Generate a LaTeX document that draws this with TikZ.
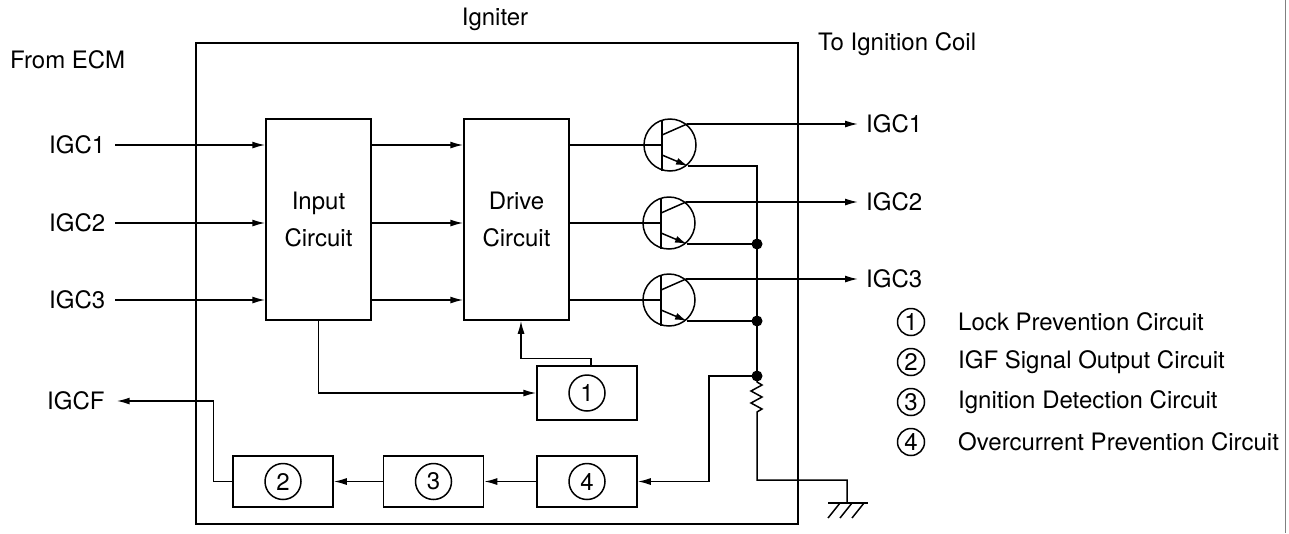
\documentclass[tikz,border=0pt]{standalone}
\usepackage{fontspec}
\setmainfont{TeX Gyre Heros}
\usetikzlibrary{arrows.meta}
\tikzset{
    line/.style={
        line width=1.5pt
    },
    bold/.style={
        line width=2.4pt
    },
    arrow/.style={
        line,
        -{Latex[length=13pt, width=7pt]}
    },
    block/.style={
        line, draw, rectangle, inner sep=0pt
    },
    num/.style={
        line, draw, circle, inner sep=0pt, minimum size=36pt
    },
    key/.style={
        line, draw, circle, inner sep=0pt, minimum size=27pt
    },
    tag/.style={
        inner sep=0pt
    },
    dot/.style={
        circle, fill, inner sep=0pt, minimum size=11pt
    }
}
\newcommand{\transistor}[3]{
    \draw [line] (#2, #3) circle [radius=26pt];
    \draw [line] ({#2 - 8}, {#3 - 25}) -- ({#2 - 8}, {#3 + 26});
    \draw [line] ({#2 - 8}, {#3 - 10}) -- ({#2 + 17}, {#3 - 21});
    \draw [line, -{Latex[length=12pt, width=7pt]}]
        ({#2 - 8}, {#3 + 10}) -- ({#2 + 18}, {#3 + 21});
    \coordinate (#1-b) at ({#2 - 8}, #3);
    \coordinate (#1-c) at ({#2 + 17}, {#3 - 21});
    \coordinate (#1-e) at ({#2 + 18}, {#3 + 21});
}

\begin{document}
\begin{tikzpicture}[x=1pt, y=-1pt, font=\fontsize{24}{37}\selectfont]
    \useasboundingbox (0, 0) rectangle (1289, 533);

    % igniter housing
    \node [block, minimum width=602pt, minimum height=481pt] (igniter) at (497, 283.5) {};
    \node [tag] (title) at (495, 19) {Igniter};
    \node [tag, anchor=west] (ecm) at (10, 60) {From ECM};
    \node [tag, anchor=west] (coil) at (818, 44) {To Ignition Coil};

    % circuit blocks
    \node [block, minimum width=105pt, minimum height=201pt, align=center] (input) at (318.5, 219.5) {Input\\Circuit};
    \node [block, minimum width=105pt, minimum height=201pt, align=center] (drive) at (516.5, 219.5) {Drive\\Circuit};
    \node [block, minimum width=100pt, minimum height=54pt] (blk1) at (587, 393) {};
    \node [block, minimum width=100pt, minimum height=51pt] (blk2) at (283, 481.5) {};
    \node [block, minimum width=100pt, minimum height=51pt] (blk3) at (433.5, 481.5) {};
    \node [block, minimum width=100pt, minimum height=51pt] (blk4) at (587, 481.5) {};
    \foreach \n in {1, ..., 4} {
        \node [num] (num\n) at (blk\n) {\n};
    }

    % output transistors
    \transistor{t1}{670}{145}
    \transistor{t2}{669}{223}
    \transistor{t3}{669}{300}

    \foreach \i/\y in {1/145, 2/223, 3/300} {
        \node [tag, anchor=west] (in\i) at (49, \y) {IGC\i};
        \draw [arrow] ([xshift=10pt]in\i.east) -- (input.west |- in\i);
        \draw [arrow] (input.east |- in\i) -- (drive.west |- in\i);
        \draw [line] (drive.east |- in\i) -- (t\i-b);
        \node [tag, anchor=west] (out\i) at (866, {\y - 21}) {IGC\i};
        \draw [arrow] (t\i-c) -- ([xshift=-8pt]out\i.west);
    }

    % emitter bus
    \coordinate (rtop) at (757, 376);
    \draw [line] (t1-e) -| (rtop |- t2-e);
    \draw [bold] (t2-e) -| (rtop);
    \draw [bold] (t3-e) -- (t3-e -| rtop);
    \node [dot] (j2) at (rtop |- t2-e) {};
    \node [dot] (j3) at (rtop |- t3-e) {};
    \node [dot] (j4) at (rtop) {};

    % shunt resistor to ground
    \coordinate (gnd) at (847, 503);
    \draw [line] (rtop) -- ++(0, 6) -- ++(5, 3) -- ++(-11, 6) -- ++(11, 6)
        -- ++(-11, 6) -- ++(11, 6) -- ++(-5, 3) -- (757, 480) -| (gnd);
    \draw [line] ([xshift=-19pt]gnd) -- ([xshift=21pt]gnd);
    \foreach \dx in {-7, 5, 17} {
        \draw [line] ([xshift=\dx pt]gnd) -- ++(-12, 15);
    }

    % monitor and feedback paths
    \draw [arrow] (rtop) -- ++(-48, 0) |- (blk4.east);
    \draw [arrow] (blk4.west) -- (blk3.east);
    \draw [arrow] (blk3.west) -- (blk2.east);
    \node [tag, anchor=west] (igcf) at (47, 401) {IGCF};
    \draw [arrow] (blk2.west) -- ++(-19, 0) |- ([xshift=12pt]igcf.east);
    \draw [arrow] (input.south) |- (blk1.west);
    \draw [arrow] ([xshift=4pt]blk1.north) -- ++(0, -7) -| ([xshift=4.5pt]drive.south);

    % legend
    \foreach \n/\txt in {1/Lock Prevention Circuit, 2/IGF Signal Output Circuit,
                         3/Ignition Detection Circuit, 4/Overcurrent Prevention Circuit} {
        \node [key] (key\n) at (911, {282 + 40 * \n}) {\n};
        \node [tag, anchor=west] (note\n) at (958, {282 + 40 * \n}) {\txt};
    }

    % page edge
    \draw [gray, line width=0.8pt] (1285, 0) -- (1285, 533);
\end{tikzpicture}
\end{document}
